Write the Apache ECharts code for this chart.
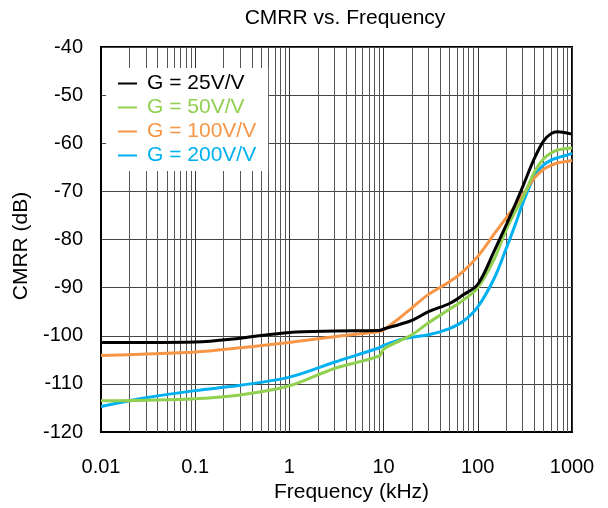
<!DOCTYPE html>
<html><head><meta charset="utf-8">
<script src="https://cdn.jsdelivr.net/npm/echarts@6/dist/echarts.min.js"></script>
<style>html,body{margin:0;padding:0;background:#fff}#c{width:608px;height:508px}</style>
</head><body><div id="c"></div>
<script>
const freqs = [0.01,0.03,0.1,0.3,1,3,9,10,15,20,30,50,70,100,150,200,250,300,400,500,600,700,800,1000];
const g25  = [-101.4,-101.4,-101.3,-100.5,-99.3,-99.0,-98.9,-98.6,-97.6,-96.8,-95.0,-93.3,-91.5,-89.3,-82.3,-77.0,-72.7,-69.0,-63.1,-59.5,-58.0,-57.6,-57.7,-58.1];
const g50  = [-113.5,-113.4,-113.1,-112.3,-110.4,-106.8,-104.2,-102.8,-101.0,-99.8,-97.3,-94.5,-92.6,-90.0,-84.0,-78.0,-74.2,-71.4,-65.9,-63.2,-62.0,-61.4,-61.2,-61.0];
const g100 = [-104.1,-103.8,-103.4,-102.5,-101.4,-100.2,-99.1,-98.8,-96.2,-94.2,-91.4,-88.8,-86.6,-83.5,-78.8,-75.5,-73.0,-70.8,-67.2,-65.4,-64.6,-64.1,-63.9,-63.6];
const g200 = [-114.7,-112.9,-111.4,-110.3,-108.6,-105.5,-102.5,-102.0,-100.8,-100.3,-99.8,-98.5,-97.0,-94.0,-88.0,-81.9,-76.9,-72.5,-66.8,-64.5,-63.5,-63.0,-62.7,-62.1];
const seriesNames = ['G = 25V/V','G = 50V/V','G = 100V/V','G = 200V/V'];
const seriesColors = ['#000000','#92D050','#F79646','#00B0F0'];
const xTicks = [0.01,0.1,1,10,100,1000];
const minorFreqs = [];
for (let d = 0; d < xTicks.length - 1; d++) for (let k = 2; k <= 9; k++) minorFreqs.push(+(xTicks[d]*k).toPrecision(3));

const vals = [g25,g50,g100,g200];
const font = 'Liberation Sans, Arial, sans-serif';
const chart = echarts.init(document.getElementById('c'), null, {renderer:'canvas'});
const series = vals.map((v,i)=>({
  name: seriesNames[i], type:'line', data: freqs.map((f,j)=>[f,v[j]]),
  showSymbol:false, smooth:0.35,
  lineStyle:{color:seriesColors[i], width:3}, itemStyle:{color:seriesColors[i]}, z: 10-i
}));
series.push({
  type:'line', data:[], silent:true, z:1,
  markLine:{silent:true, symbol:['none','none'], label:{show:false},
    lineStyle:{color:'#555', width:1, type:'solid'},
    data: minorFreqs.map(f=>({xAxis:f}))}
});
chart.setOption({
  animation:false,
  title:{text:'CMRR vs. Frequency', top:3, left:340, textAlign:'center',
    textStyle:{fontFamily:font, fontSize:21, fontWeight:'normal', color:'#000'}},
  grid:{left:101, right:36, top:47, bottom:76, show:true, borderColor:'#000', borderWidth:2},
  legend:{orient:'vertical', left:106, top:68, backgroundColor:'#fff', padding:[5,12,5,12], z:50,
    itemGap:3, itemWidth:19, itemHeight:2, icon:'rect',
    data: seriesNames.map((n,i)=>({name:n, textStyle:{color:seriesColors[i]}})),
    textStyle:{fontFamily:font, fontSize:21, padding:[0,0,0,5]}},
  xAxis:{type:'log', logBase:10, min:0.01, max:1000,
    name:'Frequency (kHz)', nameLocation:'middle', nameGap:50,
    nameTextStyle:{fontFamily:font, fontSize:21, color:'#000', padding:[0,0,0,30]},
    axisLine:{lineStyle:{color:'#000', width:2}}, axisTick:{show:false},
    axisLabel:{fontFamily:font, fontSize:20, color:'#000', margin:25,
      formatter:v=>{const r=+v.toPrecision(3); return String(r);}},
    splitLine:{show:true, lineStyle:{color:'#333', width:1}}},
  yAxis:{type:'value', min:-120, max:-40, interval:10,
    name:'CMRR (dB)', nameLocation:'middle', nameGap:65,
    nameTextStyle:{fontFamily:font, fontSize:21, color:'#000', padding:[0,13,0,0]},
    axisLine:{show:true, lineStyle:{color:'#000', width:2}}, axisTick:{show:false},
    axisLabel:{fontFamily:font, fontSize:20, color:'#000', margin:18},
    splitLine:{show:true, lineStyle:{color:'#444', width:1}}},
  series: series
});
</script></body></html>
